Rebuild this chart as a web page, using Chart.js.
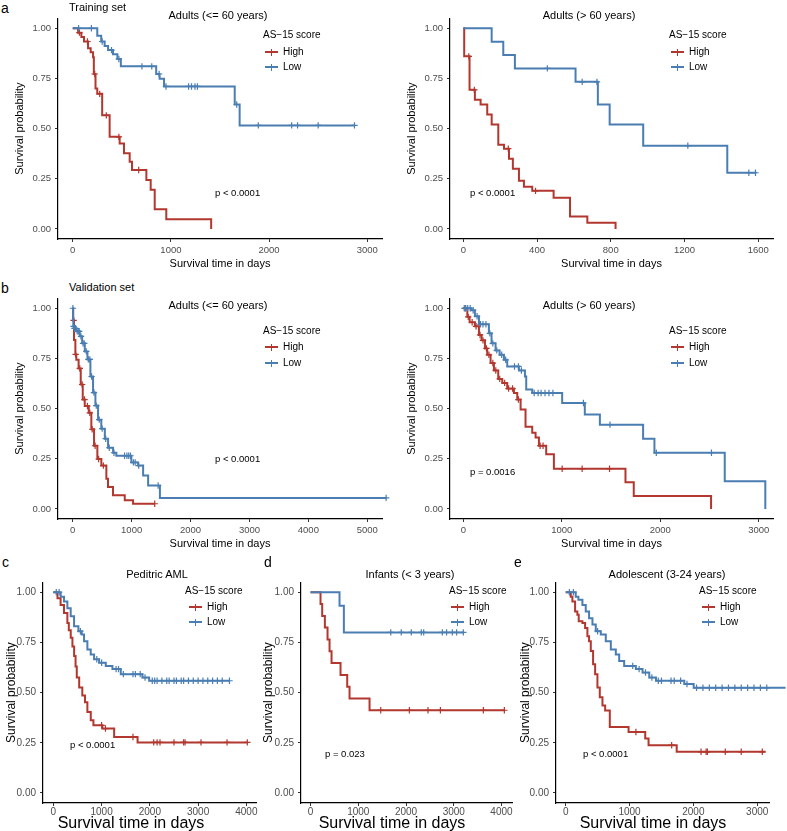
<!DOCTYPE html>
<html>
<head>
<meta charset="utf-8">
<script src="https://cdn.jsdelivr.net/npm/chart.js@4.4.1/dist/chart.umd.min.js"></script>
<style>
  html, body { margin: 0; padding: 0; background: #fff; overflow: hidden; }
  #fig { position: relative; width: 787px; height: 831px; font-family: 'Liberation Sans', Arial, sans-serif; }
  #fig canvas { position: absolute; }
  .txt { position: absolute; white-space: nowrap; line-height: 1; color: #000; transform: translateY(-50%); }
  .txt.mid { transform: translate(-50%, -50%); }
  .key { position: absolute; width: 13px; height: 2px; }
  .key::after { content: ''; position: absolute; left: 6px; top: -2.5px; width: 1.2px; height: 7px; background: inherit; }
</style>
</head>
<body>
<div id="fig"></div>
<script>
const FONT = "'Liberation Sans', Arial, sans-serif";
const RED = '#B2372E';
const BLUE = '#4A7EB2';

// tick labels
const yTicks = [0, 0.25, 0.5, 0.75, 1];
const xTicksTrainYoung = [0, 1000, 2000, 3000];
const xTicksTrainOld = [0, 400, 800, 1200, 1600];
const xTicksValYoung = [0, 1000, 2000, 3000, 4000, 5000];
const xTicksValOld = [0, 1000, 2000, 3000];
const xTicksPed = [0, 1000, 2000, 3000, 4000];
const xTicksInf = [0, 1000, 2000, 3000, 4000];
const xTicksAdo = [0, 1000, 2000, 3000];

// a: training set, adults <= 60
const trYoungHighT = [0, 55, 88, 115, 156, 183, 207, 215, 232, 250, 300, 376, 478, 522, 580, 604, 750, 794, 835, 953, 1410];
const trYoungHighS = [1, .978, .956, .934, .9, .88, .855, .772, .70, .673, .566, .459, .426, .377, .335, .294, .244, .195, .098, .049, 0];
const trYoungHighC = [68, 150, 224, 275, 342, 470, 672];
const trYoungLowT = [0, 250, 290, 325, 360, 410, 455, 490, 850, 885, 930, 1650, 1700, 2870];
const trYoungLowS = [1, .962, .934, .912, .891, .871, .847, .81, .772, .748, .71, .62, .516, .516];
const trYoungLowC = [60, 190, 300, 395, 470, 705, 805, 880, 950, 1180, 1210, 1245, 1270, 1670, 1890, 2230, 2290, 2500, 2870];

// a: training set, adults > 60
const trOldHighT = [0, 5, 34, 63, 94, 130, 154, 190, 221, 248, 269, 302, 329, 374, 490, 579, 673, 826];
const trOldHighS = [1, .86, .693, .644, .62, .57, .52, .42, .40, .35, .30, .24, .21, .19, .155, .062, .031, 0];
const trOldHighC = [30, 60, 244, 392];
const trOldLowT = [0, 154, 217, 280, 609, 730, 794, 976, 1432, 1590];
const trOldLowS = [1, .933, .867, .80, .733, .62, .52, .415, .28, .28];
const trOldLowC = [456, 645, 725, 1218, 1549, 1585];

// b: validation set, adults <= 60
const vaYoungHighT = [0, 8, 22, 45, 61, 100, 136, 170, 204, 272, 316, 362, 418, 486, 571, 599, 684, 883, 1024, 1392];
const vaYoungHighS = [1, .94, .842, .77, .743, .70, .62, .545, .513, .479, .397, .315, .249, .216, .15, .109, .068, .043, .026, .026];
const vaYoungHighC = [15, 50, 120, 160, 200, 250, 290, 330, 380, 440, 520, 1392];
const vaYoungLowT = [0, 5, 10, 20, 60, 120, 160, 205, 250, 300, 345, 385, 430, 485, 545, 600, 685, 740, 995, 1110, 1195, 1280, 1480, 5320];
const vaYoungLowS = [1, .95, .91, .90, .885, .86, .825, .785, .745, .66, .58, .515, .445, .40, .35, .305, .28, .265, .232, .216, .167, .117, .055, .055];
const vaYoungLowC = [3, 15, 30, 45, 75, 95, 110, 140, 175, 195, 230, 265, 290, 320, 360, 400, 450, 500, 560, 620, 700, 880, 920, 950, 980, 1030, 1060, 1120, 1450, 5320];

// b: validation set, adults > 60
const vaOldHighT = [0, 41, 64, 118, 159, 186, 220, 243, 277, 311, 355, 396, 446, 514, 548, 582, 632, 700, 734, 768, 842, 920, 1647, 1731, 2516];
const vaOldHighS = [1, .957, .93, .91, .867, .84, .80, .768, .727, .69, .648, .628, .60, .578, .545, .496, .41, .38, .356, .315, .273, .20, .133, .064, 0];
const vaOldHighC = [20, 50, 90, 130, 170, 200, 235, 260, 300, 330, 370, 420, 460, 500, 560, 780, 810, 1004, 1207, 1485];
const vaOldLowT = [0, 80, 118, 159, 260, 287, 328, 369, 413, 446, 565, 626, 639, 700, 1004, 1234, 1387, 1826, 1941, 2655, 3067];
const vaOldLowS = [1, .99, .96, .92, .875, .825, .79, .768, .743, .71, .69, .66, .595, .578, .528, .47, .42, .35, .28, .138, 0];
const vaOldLowC = [10, 25, 45, 70, 100, 140, 175, 200, 230, 270, 300, 340, 390, 430, 520, 560, 590, 720, 760, 790, 830, 870, 910, 1220, 1490, 1960, 2520];

// c: pediatric AML
const pedHighT = [0, 85, 150, 220, 290, 320, 360, 395, 430, 460, 485, 535, 600, 655, 705, 775, 830, 1015, 1260, 1745, 4020];
const pedHighS = [1, .97, .937, .896, .847, .81, .773, .73, .682, .63, .575, .526, .485, .452, .403, .362, .337, .321, .279, .252, .252];
const pedHighC = [1000, 1080, 1650, 2080, 2150, 2210, 2500, 2700, 2730, 3060, 3600, 4020];
const pedLowT = [0, 152, 221, 290, 359, 429, 519, 588, 636, 705, 774, 844, 948, 1086, 1224, 1397, 1846, 1985, 3650];
const pedLowS = [1, .978, .954, .92, .88, .83, .806, .79, .756, .715, .69, .666, .649, .633, .617, .592, .575, .559, .559];
const pedLowC = [60, 120, 560, 900, 1000, 1300, 1350, 1450, 1650, 1700, 1800, 1900, 2050, 2100, 2150, 2250, 2350, 2400, 2500, 2550, 2650, 2700, 2800, 2900, 3000, 3100, 3200, 3300, 3400, 3500, 3650];

// d: infants
const infHighT = [0, 209, 244, 300, 356, 398, 440, 628, 768, 817, 1236, 4070];
const infHighS = [1, .941, .882, .824, .765, .706, .647, .588, .529, .471, .412, .412];
const infHighC = [1470, 2070, 2460, 2720, 3620, 4060];
const infLowT = [0, 607, 698, 3210];
const infLowS = [1, .933, .80, .80];
const infLowC = [1680, 1900, 2110, 2320, 2370, 2760, 2850, 2970, 3060, 3200];

// e: adolescent
const adoHighT = [0, 79, 105, 147, 183, 204, 262, 304, 340, 366, 393, 429, 461, 497, 534, 576, 618, 691, 985, 1246, 1298, 1739, 3131];
const adoHighS = [1, .977, .954, .904, .888, .855, .847, .822, .781, .756, .707, .641, .592, .526, .477, .436, .411, .329, .304, .271, .238, .205, .205];
const adoHighC = [1100, 1660, 2120, 2200, 2220, 2500, 2750, 3080];
const adoLowT = [0, 157, 199, 262, 314, 366, 419, 471, 550, 628, 707, 785, 838, 916, 1099, 1204, 1309, 1414, 1858, 2005, 3445];
const adoLowS = [1, .978, .962, .937, .904, .871, .839, .806, .79, .756, .715, .69, .658, .633, .617, .60, .575, .559, .543, .524, .524];
const adoLowC = [57, 120, 500, 1050, 1150, 1250, 1350, 1450, 1500, 1650, 1700, 1800, 1900, 2050, 2150, 2250, 2350, 2450, 2550, 2650, 2750, 2850, 2950, 3050, 3150, 3300, 3440];

const fig = document.getElementById('fig');

function stepValue(times, surv, t) {
    let s = surv[0];
    for (let i = 0; i < times.length; i++) {
        if (times[i] <= t) s = surv[i];
    }
    return s;
}

function curve(label, color, times, surv, cens, order) {
    return [{
        label: label,
        data: times.map((t, i) => ({ x: t, y: surv[i] })),
        stepped: true,
        borderColor: color,
        borderWidth: 2,
        pointRadius: 0,
        fill: false,
        clip: false,
        order: order
    }, {
        label: label + ' (censored)',
        data: cens.map(t => ({ x: t, y: stepValue(times, surv, t) })),
        showLine: false,
        pointStyle: 'cross',
        pointRadius: 3.2,
        borderColor: color,
        borderWidth: 1.2,
        clip: false,
        order: order
    }];
}

function addText(str, x, y, size, opts = {}) {
    const d = document.createElement('div');
    d.className = 'txt' + (opts.mid ? ' mid' : '');
    d.textContent = str;
    d.style.left = x + 'px';
    d.style.top = y + 'px';
    d.style.fontSize = size + 'px';
    fig.appendChild(d);
}

function addKey(color, x, y) {
    const k = document.createElement('div');
    k.className = 'key';
    k.style.background = color;
    k.style.left = x + 'px';
    k.style.top = (y - 1) + 'px';
    fig.appendChild(k);
}

function makePanel(p) {
    const padTop = 4;
    const plotH = 222;
    const cv = document.createElement('canvas');
    cv.width = p.yw + (p.x2 - p.x1) + p.padR;
    cv.height = padTop + plotH + p.xh;
    cv.style.left = (p.x1 - p.yw) + 'px';
    cv.style.top = (p.top - padTop) + 'px';
    fig.appendChild(cv);

    const tickFont = { family: FONT, size: p.tickSize };
    const axisLook = {
        grid: { display: true, drawOnChartArea: false, drawTicks: true, tickLength: 3, color: '#333', lineWidth: 1 },
        border: { display: true, color: '#000', width: 1.2 }
    };

    new Chart(cv.getContext('2d'), {
        type: 'line',
        data: {
            datasets: [
                ...curve('Low', BLUE, p.low[0], p.low[1], p.low[2], 1),
                ...curve('High', RED, p.high[0], p.high[1], p.high[2], 2)
            ]
        },
        options: {
            responsive: false,
            animation: false,
            events: [],
            layout: { padding: { top: padTop, right: p.padR, left: 0, bottom: 0 } },
            plugins: { legend: { display: false }, tooltip: { enabled: false } },
            scales: {
                x: {
                    type: 'linear',
                    min: p.xMin,
                    max: p.xMax,
                    afterBuildTicks: s => { s.ticks = p.xTicks.map(v => ({ value: v })); },
                    afterFit: s => { s.height = p.xh; s.paddingLeft = 0; s.paddingRight = 0; },
                    ticks: { font: tickFont, color: '#4D4D4D', padding: p.xPad, maxRotation: 0, autoSkip: false, callback: v => String(v) },
                    title: { display: !p.xTitleAt, text: 'Survival time in days', color: '#000', padding: 0, font: { family: FONT, size: p.xTitleSize } },
                    ...axisLook
                },
                y: {
                    type: 'linear',
                    min: -0.05,
                    max: 1.05,
                    afterBuildTicks: s => { s.ticks = yTicks.map(v => ({ value: v })); },
                    afterFit: s => { s.width = p.yw; s.paddingTop = 0; s.paddingBottom = 0; },
                    ticks: { font: tickFont, color: '#4D4D4D', padding: 4, callback: v => v.toFixed(2) },
                    title: { display: true, text: 'Survival probability', color: '#000', padding: 0, font: { family: FONT, size: p.yTitleSize } },
                    ...axisLook
                }
            }
        }
    });

    // the lower row centres its x title on the whole panel, not on the plot
    if (p.xTitleAt) addText('Survival time in days', p.xTitleAt[0], p.xTitleAt[1], p.xTitleSize, { mid: true });

    addText(p.title, p.titleX, p.titleY, 11, { mid: true });
    addText('AS\u221215 score', p.leg[0], p.leg[1], 10);
    addKey(RED, p.leg[2], p.leg[3]);
    addText('High', p.leg[2] + 18, p.leg[3], 10);
    addKey(BLUE, p.leg[2], p.leg[4]);
    addText('Low', p.leg[2] + 18, p.leg[4], 10);
    addText(p.pval[0], p.pval[1], p.pval[2], 9.5);
}

const topRow = { tickSize: 9.5, xTitleSize: 11, yTitleSize: 11, xh: 32, xPad: 3 };
const bottomRow = { tickSize: 10, xTitleSize: 16, yTitleSize: 12, xh: 30, xPad: 0 };

const panels = [
    { ...topRow, x1: 58, x2: 382, top: 17, yw: 45, padR: 12, xMin: -150, xMax: 3150, xTicks: xTicksTrainYoung,
      high: [trYoungHighT, trYoungHighS, trYoungHighC], low: [trYoungLowT, trYoungLowS, trYoungLowC],
      title: 'Adults (<= 60 years)', titleX: 218, titleY: 15, leg: [263, 35, 265, 52, 67], pval: ['p < 0.0001', 215, 193] },
    { ...topRow, x1: 450, x2: 773, top: 17, yw: 45, padR: 12, xMin: -72, xMax: 1680, xTicks: xTicksTrainOld,
      high: [trOldHighT, trOldHighS, trOldHighC], low: [trOldLowT, trOldLowS, trOldLowC],
      title: 'Adults (> 60 years)', titleX: 589, titleY: 15, leg: [669, 35, 671, 52, 67], pval: ['p < 0.0001', 470, 193] },
    { ...topRow, x1: 58, x2: 382, top: 297, yw: 45, padR: 12, xMin: -250, xMax: 5250, xTicks: xTicksValYoung,
      high: [vaYoungHighT, vaYoungHighS, vaYoungHighC], low: [vaYoungLowT, vaYoungLowS, vaYoungLowC],
      title: 'Adults (<= 60 years)', titleX: 218, titleY: 305, leg: [263, 331, 265, 347, 363], pval: ['p < 0.0001', 215, 459] },
    { ...topRow, x1: 450, x2: 773, top: 297, yw: 45, padR: 12, xMin: -135, xMax: 3145, xTicks: xTicksValOld,
      high: [vaOldHighT, vaOldHighS, vaOldHighC], low: [vaOldLowT, vaOldLowS, vaOldLowC],
      title: 'Adults (> 60 years)', titleX: 589, titleY: 305, leg: [669, 331, 671, 347, 363], pval: ['p = 0.0016', 470, 472] },
    { ...bottomRow, x1: 43, x2: 256, top: 581, yw: 39, padR: 12, xMin: -215, xMax: 4200, xTicks: xTicksPed, xTitleAt: [131, 823],
      high: [pedHighT, pedHighS, pedHighC], low: [pedLowT, pedLowS, pedLowC],
      title: 'Peditric AML', titleX: 157, titleY: 574, leg: [185, 591, 189, 607, 622], pval: ['p < 0.0001', 70, 745] },
    { ...bottomRow, x1: 301, x2: 512, top: 581, yw: 40, padR: 12, xMin: -200, xMax: 4220, xTicks: xTicksInf, xTitleAt: [392, 823],
      high: [infHighT, infHighS, infHighC], low: [infLowT, infLowS, infLowC],
      title: 'Infants (< 3 years)', titleX: 410, titleY: 574, leg: [449, 591, 451, 607, 622], pval: ['p = 0.023', 325, 754] },
    { ...bottomRow, x1: 556, x2: 769, top: 581, yw: 38, padR: 20, xMin: -152, xMax: 3185, xTicks: xTicksAdo, xTitleAt: [653, 823],
      high: [adoHighT, adoHighS, adoHighC], low: [adoLowT, adoLowS, adoLowC],
      title: 'Adolescent (3-24 years)', titleX: 667, titleY: 574, leg: [699, 591, 702, 607, 622], pval: ['p < 0.0001', 583, 754] }
];

panels.forEach(makePanel);

// panel letters and set headings
addText('a', 1, 8, 14);
addText('Training set', 69, 7, 11);
addText('b', 1, 288, 14);
addText('Validation set', 69, 287, 11);
addText('c', 2, 562, 14);
addText('d', 264, 562, 14);
addText('e', 514, 562, 14);
</script>
</body>
</html>
